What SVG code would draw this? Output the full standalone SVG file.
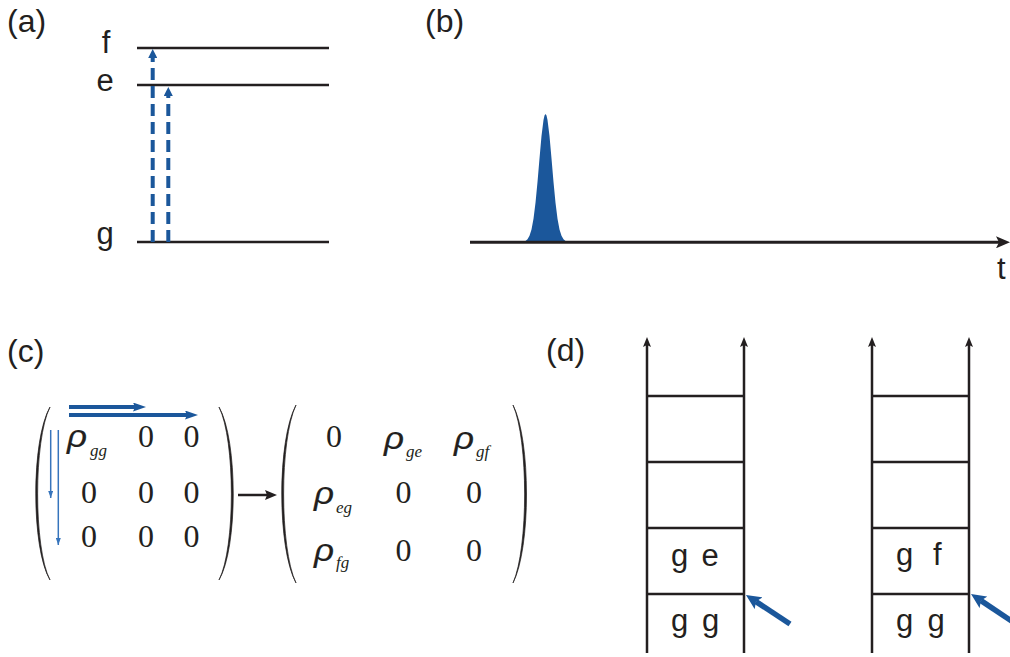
<svg xmlns="http://www.w3.org/2000/svg" width="1010" height="657" viewBox="0 0 1010 657">
<style>
.ink{stroke:#231f20;fill:none;stroke-width:2.5}
.sans{font-family:"Liberation Sans",Arial,sans-serif;font-size:31px;fill:#231f20}
.plabel{font-size:32px}
.num{font-family:"Liberation Serif","Times New Roman",serif;font-size:32px;fill:#231f20;text-anchor:middle}
.rho{font-family:"Liberation Sans",Arial,sans-serif;font-style:italic;font-size:32px;fill:#231f20;stroke:#231f20;stroke-width:0.2}
.sub{font-family:"Liberation Serif","Times New Roman",serif;font-style:italic;font-size:17px;fill:#231f20}
.paren{fill:#231f20;stroke:#231f20;stroke-width:0.7}
.blue{fill:#1b579b}
</style>
<defs>
<marker id="hBlk" markerUnits="userSpaceOnUse" markerWidth="10" markerHeight="8" refX="2" refY="4" orient="auto"><path d="M0,0 L10,4 L0,8 L2,4 Z" fill="#231f20"/></marker>
<marker id="hAxis" markerUnits="userSpaceOnUse" markerWidth="14" markerHeight="12" refX="3" refY="6" orient="auto"><path d="M0,0 L14,6 L0,12 L3,6 Z" fill="#231f20"/></marker>
<marker id="hMat" markerUnits="userSpaceOnUse" markerWidth="12" markerHeight="10" refX="2" refY="5" orient="auto"><path d="M0,0 L12,5 L0,10 L2,5 Z" fill="#231f20"/></marker>
<marker id="hDash" markerUnits="userSpaceOnUse" markerWidth="9" markerHeight="9" refX="0" refY="4.5" orient="auto"><path d="M0,0 L9,4.5 L0,9 Z" fill="#1b579b"/></marker>
<marker id="hThick" markerUnits="userSpaceOnUse" markerWidth="13" markerHeight="9" refX="2" refY="4.5" orient="auto"><path d="M0,0 L13,4.5 L0,9 L2,4.5 Z" fill="#1b579b"/></marker>
<marker id="hThin" markerUnits="userSpaceOnUse" markerWidth="7" markerHeight="5" refX="7" refY="2.5" orient="auto"><path d="M0,0 L7,2.5 L0,5 Z" fill="#3674bc"/></marker>
<marker id="hBig" markerUnits="userSpaceOnUse" markerWidth="15" markerHeight="14" refX="3" refY="7" orient="auto"><path d="M0,0 L15,7 L0,14 L3,7 Z" fill="#1b579b"/></marker>
</defs>

<!-- panel labels -->
<g id="labels" class="sans plabel">
<text x="7" y="32">(a)</text>
<text x="425" y="32">(b)</text>
<text x="7" y="362">(c)</text>
<text x="546" y="361">(d)</text>
</g>

<!-- (a) energy levels -->
<g id="levels">
<line class="ink" x1="137" y1="48" x2="329" y2="48"/>
<line class="ink" x1="137" y1="85" x2="329" y2="85"/>
<line class="ink" x1="137" y1="242" x2="329" y2="242"/>
<text class="sans" x="106" y="53" text-anchor="middle">f</text>
<text class="sans" x="105" y="91" text-anchor="middle">e</text>
<text class="sans" x="105" y="244" text-anchor="middle">g</text>
</g>
<g id="transitions" fill="none" stroke="#1b579b" stroke-width="4" stroke-dasharray="12 6">
<line x1="152.7" y1="242" x2="152.7" y2="58" marker-end="url(#hDash)"/>
<line x1="168.3" y1="242" x2="168.3" y2="96" marker-end="url(#hDash)"/>
</g>

<!-- (b) pulse -->
<g id="pulse">
<path class="blue" d="M524,242 L525.5,240.9 L527.5,239.2 L529.5,235.8 L531.5,229.4 L533.5,218.7 L535.5,202.8 L537.5,182 L539.5,158.4 L541.5,136.1 L543.5,119.9 L544.5,115.5 L545.5,114 L546.5,115.5 L547.5,119.9 L549.5,136.1 L551.5,158.4 L553.5,182 L555.5,202.8 L557.5,218.7 L559.5,229.4 L561.5,235.8 L563.5,239.2 L565.5,240.9 L567,242 Z"/>
<line x1="470" y1="242.3" x2="999" y2="242.3" stroke="#231f20" stroke-width="3" marker-end="url(#hAxis)"/>
<text class="sans" x="997" y="279">t</text>
</g>

<!-- (c) matrices -->
<g id="matrix-left">
<path class="paren" d="M50,407 C31,440 31,548 50,580 C33.5,548 33.5,440 50,407 Z"/>
<path class="paren" d="M219,407 C238,440 238,548 219,580 C235.5,548 235.5,440 219,407 Z"/>
<text class="rho" x="67" y="447" textLength="20" lengthAdjust="spacingAndGlyphs">ρ</text><text class="sub" x="90" y="456">gg</text>
<text class="num" x="146" y="447">0</text><text class="num" x="191.5" y="447">0</text>
<text class="num" x="89" y="503">0</text><text class="num" x="146" y="503">0</text><text class="num" x="191.5" y="503">0</text>
<text class="num" x="89" y="547">0</text><text class="num" x="146" y="547">0</text><text class="num" x="191.5" y="547">0</text>
</g>
<g id="matrix-right">
<path class="paren" d="M296,405 C277,440 277,548 296,583 C279.5,548 279.5,440 296,405 Z"/>
<path class="paren" d="M513,405 C531,440 531,548 513,583 C528.5,548 528.5,440 513,405 Z"/>
<text class="num" x="334" y="447">0</text>
<text class="rho" x="384" y="448.5" textLength="20" lengthAdjust="spacingAndGlyphs">ρ</text><text class="sub" x="406" y="457">ge</text>
<text class="rho" x="454" y="448.5" textLength="20" lengthAdjust="spacingAndGlyphs">ρ</text><text class="sub" x="476" y="457">gf</text>
<text class="rho" x="314" y="504" textLength="20" lengthAdjust="spacingAndGlyphs">ρ</text><text class="sub" x="336" y="513">eg</text>
<text class="num" x="403.5" y="503">0</text><text class="num" x="474" y="503">0</text>
<text class="rho" x="314" y="561" textLength="20" lengthAdjust="spacingAndGlyphs">ρ</text><text class="sub" x="336" y="568">fg</text>
<text class="num" x="403.5" y="561">0</text><text class="num" x="474" y="561">0</text>
</g>

<!-- (d) ladders -->
<g id="ladder-1" class="ink">
<line x1="647" y1="653" x2="647" y2="345" marker-end="url(#hBlk)"/>
<line x1="744" y1="653" x2="744" y2="345" marker-end="url(#hBlk)"/>
<line x1="647" y1="396" x2="744" y2="396"/>
<line x1="647" y1="462" x2="744" y2="462"/>
<line x1="647" y1="528" x2="744" y2="528"/>
<line x1="647" y1="594" x2="744" y2="594"/>
</g>
<g id="ladder-1-text" class="sans">
<text y="566"><tspan x="671">g</tspan><tspan x="701.5">e</tspan></text>
<text y="631"><tspan x="671">g</tspan><tspan x="702">g</tspan></text>
</g>
<g id="ladder-2" class="ink">
<line x1="872" y1="653" x2="872" y2="345" marker-end="url(#hBlk)"/>
<line x1="969" y1="653" x2="969" y2="345" marker-end="url(#hBlk)"/>
<line x1="872" y1="396" x2="969" y2="396"/>
<line x1="872" y1="462" x2="969" y2="462"/>
<line x1="872" y1="528" x2="969" y2="528"/>
<line x1="872" y1="594" x2="969" y2="594"/>
</g>
<g id="ladder-2-text" class="sans">
<text y="565"><tspan x="896">g</tspan><tspan x="933">f</tspan></text>
<text y="631"><tspan x="896">g</tspan><tspan x="927.5">g</tspan></text>
</g>

<!-- connectors -->
<g id="connectors">
<line x1="69" y1="407" x2="135" y2="407" stroke="#1b579b" stroke-width="4" marker-end="url(#hThick)"/>
<line x1="69" y1="415" x2="187" y2="415" stroke="#1b579b" stroke-width="4" marker-end="url(#hThick)"/>
<line x1="50.7" y1="430" x2="50.7" y2="498" stroke="#3674bc" stroke-width="1.5" marker-end="url(#hThin)"/>
<line x1="58.3" y1="430" x2="58.3" y2="545" stroke="#3674bc" stroke-width="1.5" marker-end="url(#hThin)"/>
<line x1="238" y1="495" x2="267" y2="495" stroke="#231f20" stroke-width="2.5" marker-end="url(#hMat)"/>
<line x1="790" y1="624" x2="756" y2="601.6" stroke="#1b579b" stroke-width="5.5" marker-end="url(#hBig)"/>
<line x1="1016" y1="624" x2="981" y2="600.6" stroke="#1b579b" stroke-width="5.5" marker-end="url(#hBig)"/>
</g>
</svg>
